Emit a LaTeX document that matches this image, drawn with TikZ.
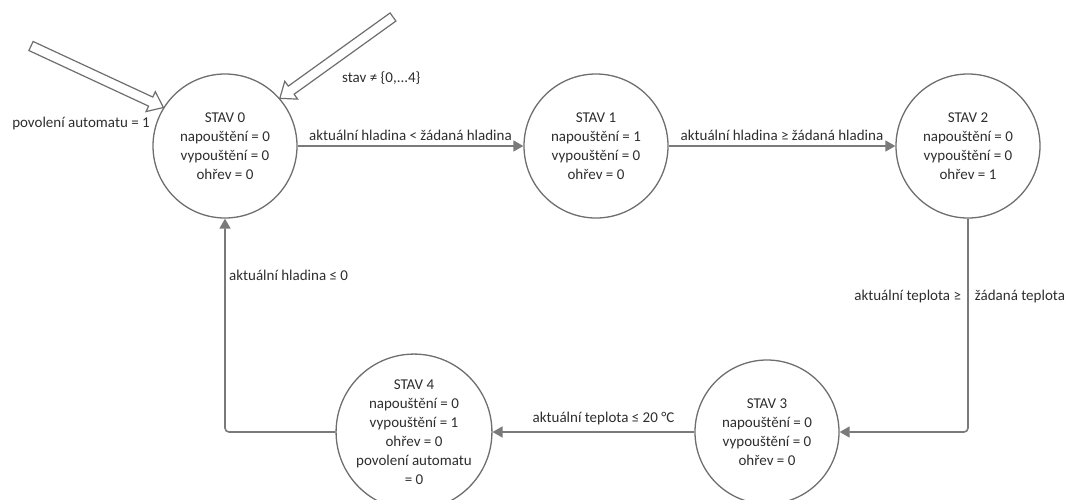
\documentclass[tikz,border=0pt]{standalone}
\usepackage{fontspec}
\setmainfont{Carlito}
\usetikzlibrary{arrows.meta,calc}
\definecolor{edgegray}{HTML}{7A7A7A}
\definecolor{ringgray}{HTML}{6E6E6E}
\definecolor{inkgray}{HTML}{2E2E2E}
\begin{document}
\begin{tikzpicture}[x=1pt,y=-1pt,
  every node/.style={text=inkgray,font=\fontsize{15}{19}\selectfont},
  state/.style={circle,draw=ringgray,line width=1.3pt,minimum size=144pt,inner sep=0pt,align=center,fill=white},
  conn/.style={draw=edgegray,line width=1.6pt,rounded corners=4pt,-{Triangle[length=10pt,width=11pt]}},
  hollow/.style={draw=ringgray,line width=1.2pt,fill=white,line join=miter},
  cond/.style={inner sep=1pt}]
\useasboundingbox (0,0) rectangle (1066,499);

% states
\node[state] (s0) at (225,146) {STAV 0\\napouštění = 0\\vypouštění = 0\\ohřev = 0};
\node[state] (s1) at (596,146) {STAV 1\\napouštění = 1\\vypouštění = 0\\ohřev = 0};
\node[state] (s2) at (968,146) {STAV 2\\napouštění = 0\\vypouštění = 0\\ohřev = 1};
\node[state] (s3) at (767,432) {STAV 3\\napouštění = 0\\vypouštění = 0\\ohřev = 0};
\node[state] (s4) at (414,432) {STAV 4\\napouštění = 0\\vypouštění = 1\\ohřev = 0\\povolení automatu\\= 0};

% transitions
\draw[conn] (s0) -- node[cond,above=4pt] {aktuální hladina < žádaná hladina} (s1);
\draw[conn] (s1) -- node[cond,above=4pt] {aktuální hladina ≥ žádaná hladina} (s2);
\draw[conn] (s2.south) |- (s3.east);
\draw[conn] (s3) -- node[cond,above=5pt,pos=0.45] {aktuální teplota ≤ 20 °C} (s4);
\draw[conn] (s4.west) -| (s0.south);

% transition conditions placed beside the long connectors
\node[cond] (c23) at (s2.south |- 0,296) {\makebox[0pt][r]{aktuální teplota ≥}\hspace{14pt}\makebox[0pt][l]{žádaná teplota}};
\node[cond,anchor=west] (c40) at (228,275) {aktuální hladina ≤ 0};

% entry arrows into STAV 0
\coordinate (t1) at (31,46);
\coordinate (h1) at (s0.148);
\coordinate (b1) at ($(h1)!14pt!(t1)$);
\draw[hollow] ($(t1)!5pt!90:(h1)$) -- ($(b1)!5pt!-90:(t1)$) -- ($(b1)!11pt!-90:(t1)$) -- (h1)
  -- ($(b1)!11pt!90:(t1)$) -- ($(b1)!5pt!90:(t1)$) -- ($(t1)!5pt!-90:(h1)$) -- cycle;
\coordinate (t2) at (393,17);
\coordinate (h2) at (s0.41);
\coordinate (b2) at ($(h2)!14pt!(t2)$);
\draw[hollow] ($(t2)!5pt!90:(h2)$) -- ($(b2)!5pt!-90:(t2)$) -- ($(b2)!11pt!-90:(t2)$) -- (h2)
  -- ($(b2)!11pt!90:(t2)$) -- ($(b2)!5pt!90:(t2)$) -- ($(t2)!5pt!-90:(h2)$) -- cycle;

\node[cond,anchor=east] (e1) at (151,123) {povolení automatu = 1};
\node[cond,anchor=west] (e2) at (341,78) {stav ≠ \{0,...4\}};
\end{tikzpicture}
\end{document}
